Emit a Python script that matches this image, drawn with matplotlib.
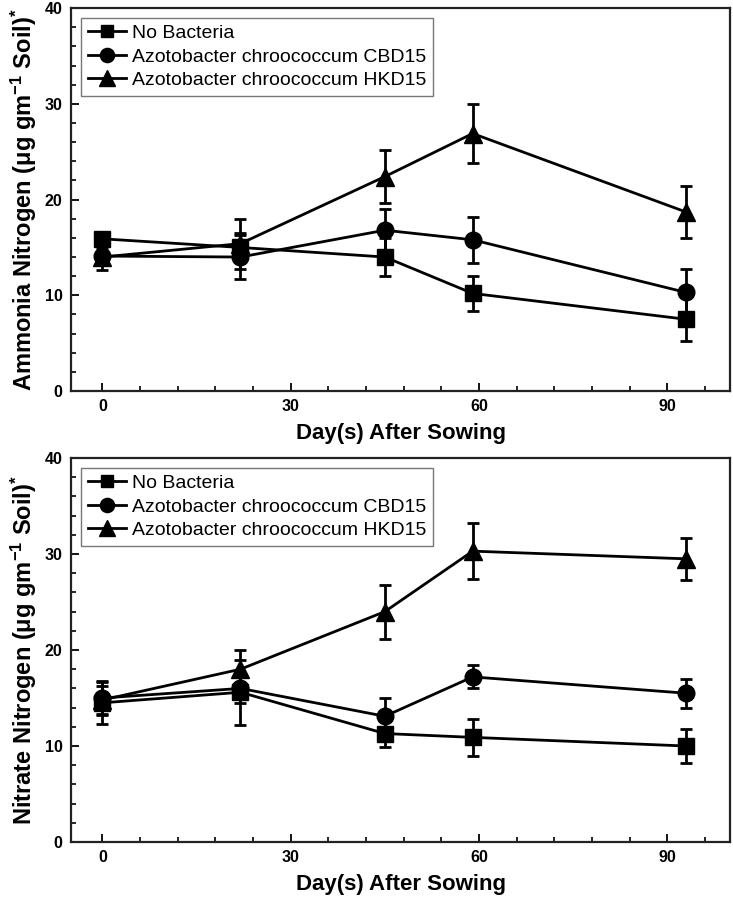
import matplotlib
matplotlib.use('Agg')
import matplotlib.pyplot as plt
from matplotlib.ticker import MultipleLocator

plt.rcParams['font.family'] = ['Liberation Sans', 'DejaVu Sans']
plt.rcParams['mathtext.fontset'] = 'custom'
plt.rcParams['mathtext.rm'] = 'Liberation Sans:bold'
plt.rcParams['mathtext.bf'] = 'Liberation Sans:bold'
plt.rcParams['mathtext.default'] = 'rm'

# days after sowing
days = [0, 22, 45, 59, 93]
labels = ['No Bacteria', 'Azotobacter chroococcum CBD15', 'Azotobacter chroococcum HKD15']

# ammonia nitrogen (top panel)
amm_none = [15.9, 15.0, 14.0, 10.2, 7.5]
amm_none_err = [0.6, 1.5, 2.0, 1.8, 2.3]
amm_cbd = [14.1, 14.0, 16.8, 15.8, 10.3]
amm_cbd_err = [0.8, 2.3, 2.2, 2.4, 2.5]
amm_hkd = [14.0, 15.4, 22.4, 26.9, 18.7]
amm_hkd_err = [1.4, 2.6, 2.8, 3.1, 2.7]

# nitrate nitrogen (bottom panel)
nit_none = [14.5, 15.6, 11.3, 10.9, 10.0]
nit_none_err = [2.2, 3.4, 1.4, 1.9, 1.8]
nit_cbd = [15.0, 16.0, 13.1, 17.2, 15.5]
nit_cbd_err = [1.8, 1.5, 1.9, 1.2, 1.5]
nit_hkd = [14.8, 18.0, 24.0, 30.3, 29.5]
nit_hkd_err = [1.5, 2.0, 2.8, 2.9, 2.2]

fig = plt.figure(figsize=(7.33, 8.99), dpi=100)
ax1 = fig.add_axes([0.0969, 0.565, 0.899, 0.426])
ax2 = fig.add_axes([0.0969, 0.0634, 0.899, 0.4271])


def draw(ax, series, ylabel):
    markers = ['s', 'o', '^']
    sizes = [11, 12, 13]
    handles = []
    for (vals, errs), m, ms, lab in zip(series, markers, sizes, labels):
        c = ax.errorbar(days, vals, yerr=errs, color='black', lw=2, marker=m,
                        ms=ms, mfc='black', mec='black', elinewidth=2,
                        capsize=4, capthick=2, label=lab)
        handles.append(c.lines[0])
    ax.set_xlim(-5, 100)
    ax.set_ylim(0, 40)
    ax.xaxis.set_major_locator(MultipleLocator(30))
    ax.xaxis.set_minor_locator(MultipleLocator(6))
    ax.yaxis.set_major_locator(MultipleLocator(10))
    ax.yaxis.set_minor_locator(MultipleLocator(2))
    ax.tick_params(which='major', direction='in', length=6, width=1.3,
                   labelsize=11.5, pad=6, top=False, right=False)
    ax.tick_params(which='minor', direction='in', length=3.5, width=1.2,
                   top=False, right=False)
    for t in ax.get_xticklabels() + ax.get_yticklabels():
        t.set_fontweight('bold')
    for s in ax.spines.values():
        s.set_linewidth(1.6)
        s.set_color('#222222')
    ax.set_xlabel('Day(s) After Sowing', fontsize=16, fontweight='bold', labelpad=6)
    ax.set_ylabel(ylabel, fontsize=17, fontweight='bold', labelpad=4)
    leg = ax.legend(handles, labels, loc='upper left', fontsize=14, frameon=True,
                    fancybox=False, handlelength=2.0, handletextpad=0.3,
                    labelspacing=0.3, borderpad=0.35, borderaxespad=0.5,
                    markerscale=0.85)
    leg.get_frame().set_edgecolor('#555555')
    leg.get_frame().set_linewidth(1.0)


draw(ax1, [(amm_none, amm_none_err), (amm_cbd, amm_cbd_err), (amm_hkd, amm_hkd_err)],
     'Ammonia Nitrogen (μg gm$^{-1}$ Soil)$^{*}$')
draw(ax2, [(nit_none, nit_none_err), (nit_cbd, nit_cbd_err), (nit_hkd, nit_hkd_err)],
     'Nitrate Nitrogen (μg gm$^{-1}$ Soil)$^{*}$')

fig.savefig('out.png', dpi=100)
